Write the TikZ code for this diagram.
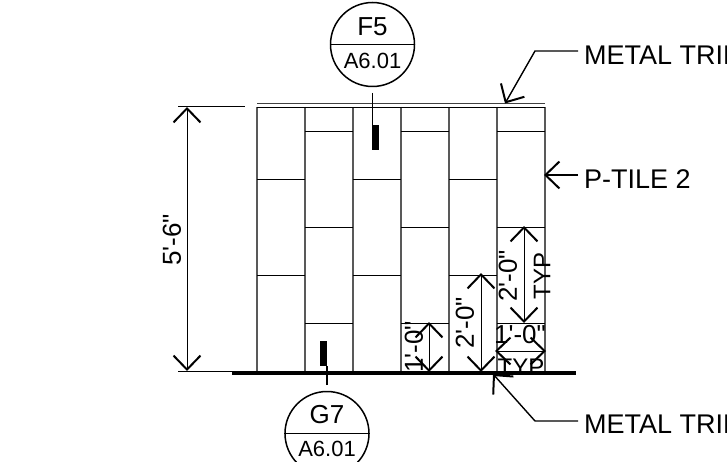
\documentclass[tikz,border=0pt]{standalone}
\usepackage{fontspec}
\usetikzlibrary{arrows.meta, positioning}
\newfontfamily\cadfont{Liberation Sans}
\newcommand{\cadsize}[1]{\fontsize{#1}{#1}\cadfont}

\begin{document}
\begin{tikzpicture}[
            x=1pt,
            y=-1pt,
            >={Straight Barb[length=14pt,width=27pt,line width=2pt]},
            tilev/.style={draw=black!65, line width=1.2pt},
            tileh/.style={draw=black, line width=0.8pt},
            bubble/.style={circle, draw, line width=1.5pt, minimum size=84pt, inner sep=0pt},
            marker/.style={rectangle, fill=black, minimum width=6.5pt, minimum height=25pt, inner sep=0pt},
            label/.style={font=\cadsize{27}, anchor=west, inner sep=0pt},
            dimtext/.style={font=\cadsize{26}, inner sep=0pt},
            typtext/.style={font=\cadsize{24}, inner sep=0pt},
            dimline/.style={<->, line width=0.9pt},
            leader/.style={->, line width=1.4pt}
        ]
            \clip (0,0) rectangle (727,462);

            % Tiles
            \foreach \x in {257,305,353,401,449,497,545} {
                \draw[tilev] (\x,107) -- (\x,372);
            }
            \foreach \x in {305,401,497} {
                \foreach \y in {131,227.5,323.5} {
                    \draw[tileh] (\x,\y) -- ({\x+48},\y);
                }
            }
            \foreach \x in {257,353,449} {
                \foreach \y in {179.5,275.5} {
                    \draw[tileh] (\x,\y) -- ({\x+48},\y);
                }
            }
            \draw[tileh] (257,107) -- (545,107);
            \draw[tileh, draw=black!75] (257,103.5) -- (545,103.5);
            \draw[line width=3.2pt] (232,373) -- (576,373);

            % Nodes
            \node[bubble] (f5) at (372.5,44.5) {};
            \node[font=\cadsize{26}, inner sep=0pt] (f5top) at (372.5,27) {F5};
            \node[font=\cadsize{22}, inner sep=0pt] (f5sheet) at (372.5,61) {A6.01};
            \node[marker] (f5cut) at (375.7,137.5) {};
            \coordinate (f5end) at (372.7,93);

            \node[bubble] (g7) at (327,433.5) {};
            \node[font=\cadsize{26}, inner sep=0pt] (g7top) at (327,415) {G7};
            \node[font=\cadsize{22}, inner sep=0pt] (g7sheet) at (327,449) {A6.01};
            \node[marker] (g7cut) at (323.7,353) {};
            \coordinate (g7end) at (327,385);

            \node[label] (trimtop) at (584,55) {METAL TRIM};
            \node[label] (tile) at (584,179) {P-TILE 2};
            \node[label] (trimbot) at (584,424) {METAL TRIM};

            \node[dimtext, rotate=90] (overall) at (172,240) {5'-6"};
            \node[dimtext, rotate=90] (dimone) at (414,347) {1'-0"};
            \node[dimtext, rotate=90] (dimtwo) at (465,323) {2'-0"};
            \node[dimtext, rotate=90] (dimtyp) at (508,276) {2'-0"};
            \node[typtext, rotate=90] (typv) at (542,276) {TYP};
            \node[dimtext] (dimwide) at (520,335) {1'-0"};
            \node[typtext] (typh) at (521,367) {TYP};

            % Points
            \coordinate (overalltop) at (187,107);
            \coordinate (overallbot) at (187,371);
            \coordinate (exttopa) at (178,107);
            \coordinate (exttopb) at (245,107);
            \coordinate (extbota) at (178,371);
            \coordinate (extbotb) at (245,371);
            \coordinate (dimonetop) at (429,322);
            \coordinate (dimonebot) at (429,372);
            \coordinate (dimtwotop) at (481,273);
            \coordinate (dimtwobot) at (481,372);
            \coordinate (dimtyptop) at (524,226);
            \coordinate (dimtypbot) at (524,323);
            \coordinate (dimwidel) at (495,351);
            \coordinate (dimwider) at (546,351);
            \coordinate (trimtopstart) at (578,51);
            \coordinate (trimtopbend) at (535,51);
            \coordinate (trimtoptip) at (505,103.5);
            \coordinate (tilestart) at (578,175);
            \coordinate (tiletip) at (544,175);
            \coordinate (trimbotstart) at (578,421);
            \coordinate (trimbotbend) at (535,421);
            \coordinate (trimbottip) at (493,374);

            % Arrows
            \draw[line width=1.5pt] (f5.west) -- (f5.east);
            \draw[line width=1.5pt] (g7.west) -- (g7.east);
            \draw[line width=1.4pt] (f5end) -- (f5end |- f5cut.north);
            \draw[line width=1.4pt] (g7end) -- (g7end |- g7cut.south);
            \draw[line width=1pt] (exttopa) -- (exttopb);
            \draw[line width=1pt] (extbota) -- (extbotb);
            \draw[dimline] (overalltop) -- (overallbot);
            \draw[dimline] (dimonetop) -- (dimonebot);
            \draw[dimline] (dimtwotop) -- (dimtwobot);
            \draw[dimline] (dimtyptop) -- (dimtypbot);
            \draw[dimline] (dimwidel) -- (dimwider);
            \draw[leader] (trimtopstart) -- (trimtopbend) -- (trimtoptip);
            \draw[leader] (tilestart) -- (tiletip);
            \draw[leader] (trimbotstart) -- (trimbotbend) -- (trimbottip);
        \end{tikzpicture}
\end{document}
